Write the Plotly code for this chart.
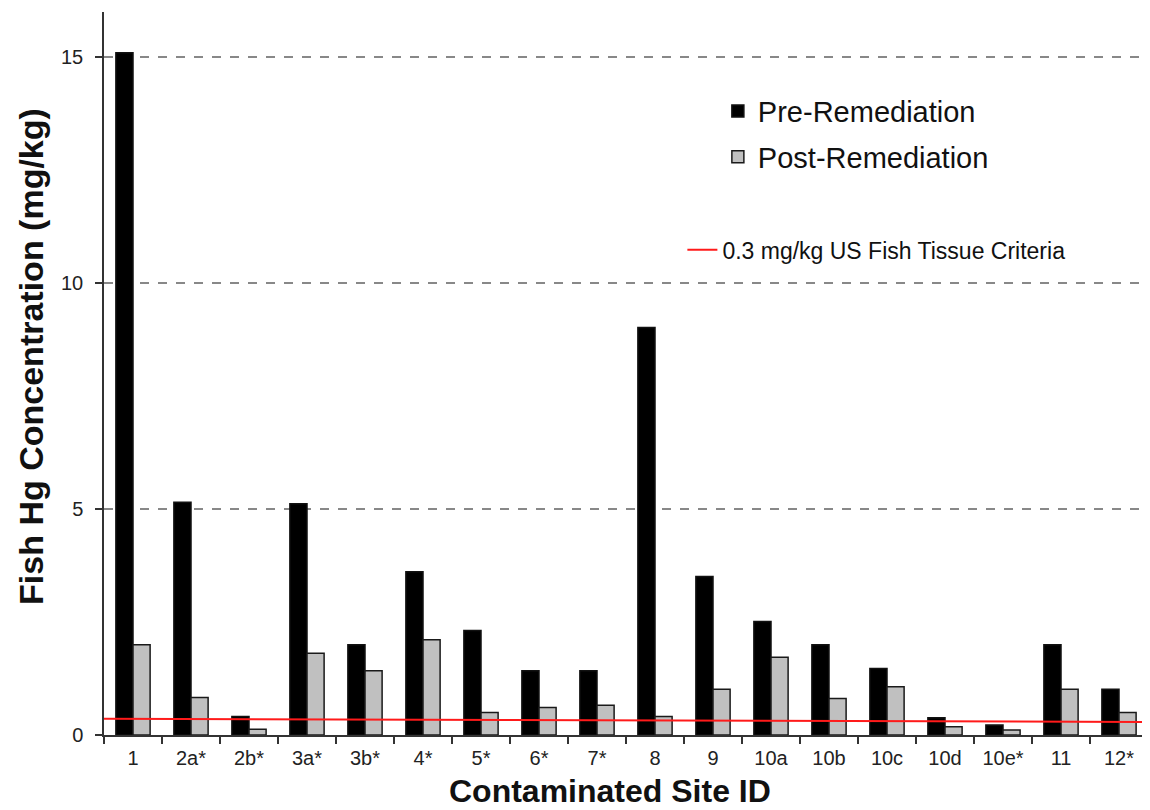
import plotly.graph_objects as go

sites = ["1", "2a*", "2b*", "3a*", "3b*", "4*", "5*", "6*", "7*", "8", "9",
         "10a", "10b", "10c", "10d", "10e*", "11", "12*"]
pre_remediation = [15.1, 5.15, 0.41, 5.12, 2.0, 3.61, 2.31, 1.42, 1.42, 9.02,
                   3.51, 2.51, 2.0, 1.47, 0.38, 0.22, 2.0, 1.01]
post_remediation = [2.0, 0.83, 0.13, 1.81, 1.42, 2.11, 0.50, 0.61, 0.66, 0.41,
                    1.01, 1.72, 0.81, 1.07, 0.18, 0.11, 1.01, 0.50]
criteria_x = [0, 1]
criteria_y = [0.36, 0.29]
y_ticks = [0, 5, 10, 15]

FONT = "Liberation Sans, Arial, sans-serif"

fig = go.Figure()
fig.add_trace(go.Bar(
    x=sites, y=pre_remediation, name="Pre-Remediation",
    marker=dict(color="#000000", line=dict(color="#111111", width=1.5)),
    legend="legend", legendgroup="pre",
))
fig.add_trace(go.Bar(
    x=sites, y=post_remediation, name="Post-Remediation",
    marker=dict(color="#c0c0c0", line=dict(color="#1a1a1a", width=1.5)),
    legend="legend", legendgroup="post",
))
fig.add_trace(go.Scatter(
    x=criteria_x, y=criteria_y, xaxis="x2", mode="lines",
    name="0.3 mg/kg US Fish Tissue Criteria",
    line=dict(color="#ff1a1a", width=2),
    legend="legend2",
))

fig.update_layout(
    width=1142, height=802,
    margin=dict(l=96, r=2, t=4, b=75),
    paper_bgcolor="white", plot_bgcolor="white",
    font=dict(family=FONT, color="#1a1a1a"),
    barmode="group", bargap=0.41, bargroupgap=0,
    xaxis=dict(
        type="category", categoryorder="array", categoryarray=sites,
        automargin=False,
        showline=True, linecolor="#333333", linewidth=1.5,
        ticks="outside", tickson="boundaries", ticklen=7, tickwidth=1.5, tickcolor="#333333",
        tickfont=dict(size=20, color="#222222"), ticklabelstandoff=4,
        showgrid=False, zeroline=False,
    ),
    xaxis2=dict(overlaying="x", range=[0, 1], visible=False),
    yaxis=dict(
        range=[0, 16], tickvals=y_ticks, automargin=False,
        showline=True, linecolor="#333333", linewidth=1.5,
        ticks="outside", ticklen=7, tickwidth=1.5, tickcolor="#333333",
        tickfont=dict(size=20, color="#222222"), ticklabelstandoff=8,
        showgrid=True, gridcolor="#888888", gridwidth=1.5, griddash="dash",
        zeroline=False,
    ),
    legend=dict(
        x=0.588, y=0.898, xanchor="left", yanchor="top",
        font=dict(size=29, color="#111111"), bgcolor="rgba(0,0,0,0)",
        tracegroupgap=5, traceorder="grouped",
    ),
    legend2=dict(
        x=0.554, y=0.701, xanchor="left", yanchor="top",
        font=dict(size=23, color="#111111"), bgcolor="rgba(0,0,0,0)",
    ),
    annotations=[
        dict(text="<b>Contaminated Site ID</b>", xref="paper", yref="paper",
             x=0.4847, y=-0.0775, xanchor="center", yanchor="middle", showarrow=False,
             font=dict(size=32, color="#111111")),
        dict(text="<b>Fish Hg Concentration (mg/kg)</b>", xref="paper", yref="paper",
             x=-0.0699, y=0.523, xanchor="center", yanchor="middle", showarrow=False,
             textangle=-90, font=dict(size=34, color="#111111")),
    ],
)

fig.write_html("out.html")
